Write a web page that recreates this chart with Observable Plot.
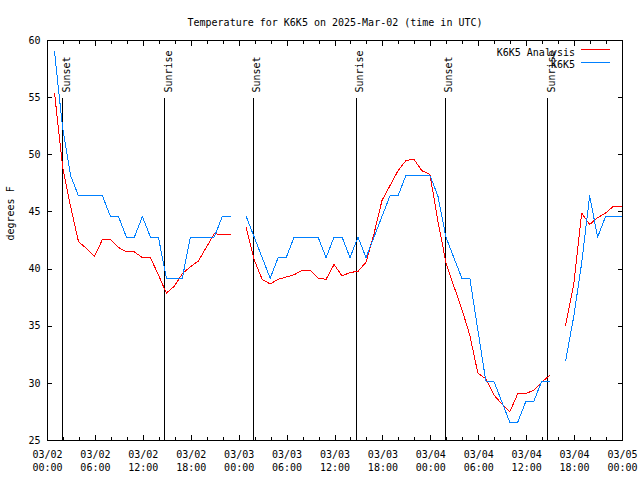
<!DOCTYPE html>
<html><head><meta charset="utf-8">
<script src="https://cdn.jsdelivr.net/npm/d3@7"></script>
<script src="https://cdn.jsdelivr.net/npm/@observablehq/plot@0.6"></script>
<style>body{margin:0;background:#fff}</style>
</head><body><div id="chart"></div>
<script>
const title = "Temperature for K6K5 on 2025-Mar-02 (time in UTC)";
const yLabel = "degrees F";
const seriesNames = ["K6K5 Analysis", "K6K5"];
const seriesColors = ["#ff0000", "#0080ff"];
const xStart = "2025-03-02T00:00:00Z";
const xEnd = "2025-03-05T00:00:00Z";
const obsStart = "2025-03-02T00:53:00Z"; // hourly reports
const analysis = [55.4, 49.0, 45.5, 42.4, 41.8, 41.1, 42.6, 42.6, 41.9, 41.5, 41.5, 41.0, 41.0, 39.5, 37.9, 38.5, 39.6, 40.2, 40.7, 41.9, 43.1, 43.0, 43.0, null,
  43.6, 40.8, 39.1, 38.7, 39.1, 39.3, 39.5, 39.9, 39.9, 39.2, 39.1, 40.4, 39.4, 39.7, 39.8, 40.6, 43.1, 46.0, 47.3, 48.6, 49.5, 49.6, 48.6, 48.3,
  44.2, 40.6, 38.5, 36.5, 34.2, 30.9, 30.4, 29.0, 28.2, 27.5, 29.1, 29.1, 29.4, 30.1, 30.7, null, 35.1, 38.6, 44.9, 43.9, 44.5, 44.9, 45.5, 45.5];
const observed = [59.0, 52.4, 48.2, 46.4, 46.4, 46.4, 46.4, 44.6, 44.6, 42.8, 42.8, 44.6, 42.8, 42.8, 39.2, 39.2, 39.2, 42.8, 42.8, 42.8, 42.8, 44.6, 44.6, null,
  44.6, 42.8, 41.0, 39.2, 41.0, 41.0, 42.8, 42.8, 42.8, 42.8, 41.0, 42.8, 42.8, 41.0, 42.8, 41.0, 42.8, 44.6, 46.4, 46.4, 48.2, 48.2, 48.2, 48.2,
  46.4, 42.8, 41.0, 39.2, 39.2, 34.7, 30.2, 30.2, 28.4, 26.6, 26.6, 28.4, 28.4, 30.2, 30.2, null, 32.0, 35.8, 40.5, 46.4, 42.8, 44.6, 44.6, 44.6];
const sunEvents = ["Sunset", "Sunrise", "Sunset", "Sunrise", "Sunset", "Sunrise"];
const sunTimes = ["2025-03-02T01:52:00Z", "2025-03-02T14:41:00Z", "2025-03-03T01:45:00Z", "2025-03-03T14:38:00Z", "2025-03-04T01:47:00Z", "2025-03-04T14:40:00Z"];
const yTicks = [25, 30, 35, 40, 45, 50, 55, 60];

const t0 = new Date(obsStart);
const rows = analysis.map((a, i) => ({t: d3.utcHour.offset(t0, i), a, o: observed[i]}));
const sunRows = sunTimes.map((t, i) => ({t: new Date(t), name: sunEvents[i]}));
const d0 = new Date(xStart), d1 = new Date(xEnd);
const majorTicks = d3.utcHour.every(6).range(d0, d3.utcMinute.offset(d1, 1));
const minorTicks = d3.utcHour.every(2).range(d0, d3.utcMinute.offset(d1, 1));
const fmt = d3.utcFormat("%m/%d\n%H:%M");
const crisp = "crispEdges";

const plot = Plot.plot({
  width: 640, height: 480,
  marginLeft: 47, marginRight: 18, marginTop: 40, marginBottom: 40,
  style: {fontFamily: "'DejaVu Sans Mono', monospace", fontSize: "10px", background: "#fff", color: "#000"},
  x: {type: "utc", domain: [d0, d1]},
  y: {domain: [25, 60]},
  marks: [
    Plot.frame({stroke: "#000", shapeRendering: crisp}),
    Plot.axisY(yTicks, {anchor: "left", tickSize: 5, dx: 5, text: null, label: null, shapeRendering: crisp}),
    Plot.axisY(yTicks, {anchor: "right", tickSize: 5, dx: -5, text: null, label: null, shapeRendering: crisp}),
    Plot.axisY(yTicks, {anchor: "left", tickSize: 0, tickPadding: 7, label: null}),
    Plot.axisX(minorTicks, {anchor: "bottom", tickSize: 3, dy: -3, text: null, label: null, shapeRendering: crisp}),
    Plot.axisX(majorTicks, {anchor: "bottom", tickSize: 5, dy: -5, text: null, label: null, shapeRendering: crisp}),
    Plot.axisX(minorTicks, {anchor: "top", tickSize: 3, dy: 3, text: null, label: null, shapeRendering: crisp}),
    Plot.axisX(majorTicks, {anchor: "top", tickSize: 5, dy: 5, text: null, label: null, shapeRendering: crisp}),
    Plot.axisX(majorTicks, {anchor: "bottom", tickSize: 0, tickPadding: 8, tickFormat: fmt, lineHeight: 1.3, label: null}),
    Plot.text([title], {frameAnchor: "top", dy: -22}),
    Plot.text([yLabel], {frameAnchor: "left", dx: -37, rotate: -90}),
    Plot.ruleX(sunRows, {x: "t", insetTop: 58, stroke: "#000", shapeRendering: crisp}),
    Plot.text(sunRows, {x: "t", text: "name", frameAnchor: "top", dy: 52, rotate: -90, textAnchor: "start"}),
    Plot.line(rows, {x: "t", y: "a", stroke: seriesColors[0], strokeWidth: 1, shapeRendering: crisp}),
    Plot.line(rows, {x: "t", y: "o", stroke: seriesColors[1], strokeWidth: 1, shapeRendering: crisp}),
    Plot.text([seriesNames[0]], {frameAnchor: "top-right", dx: -47.5, dy: 8, textAnchor: "end"}),
    Plot.text([seriesNames[1]], {frameAnchor: "top-right", dx: -47.5, dy: 20.5, textAnchor: "end"})
  ]
});
document.getElementById("chart").appendChild(plot);

// legend sample lines
const svg = d3.select(plot);
[[49.5, seriesColors[0]], [62.5, seriesColors[1]]].forEach(([y, c]) => {
  svg.append("line").attr("x1", 581).attr("x2", 610).attr("y1", y).attr("y2", y)
    .attr("stroke", c).attr("stroke-width", 1).attr("shape-rendering", crisp);
});
</script>
</body></html>
